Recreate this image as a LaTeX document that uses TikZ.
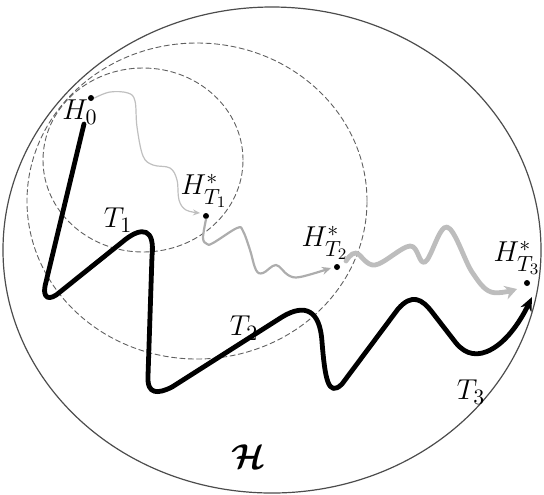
\documentclass[tikz,border=0pt]{standalone}
\usepackage{amsmath,amssymb,bm}
\usepackage{xcolor}
\usepackage{tikz}
\usetikzlibrary{arrows.meta}

\begin{document}
\begin{tikzpicture}[x=0.5pt,y=-0.5pt,line cap=round,line join=round,
    dot/.style={circle,fill=black,inner sep=0pt,minimum size=3pt},
    lbl/.style={font=\fontsize{15.5}{18}\selectfont,inner sep=0pt},
    bound/.style={draw=gray!75!black,dash pattern=on 2.6pt off 1.6pt,line width=0.45pt},
    walk/.style={smooth,tension=0.6}]
    \useasboundingbox (0,0) rectangle (544,494);
    \draw[gray!60!black,line width=0.6pt] (272,250) ellipse [x radius=134.5pt,y radius=121.5pt];
    \draw[bound] (197,201) ellipse [x radius=85pt,y radius=79pt];
    \draw[bound] (143,160) ellipse [x radius=50pt,y radius=46pt];
    \node[dot] (h0) at (91,98) {};
    \node[dot] (ht1) at (206,216) {};
    \node[dot] (ht2) at (337,267) {};
    \node[dot] (ht3) at (527,283) {};
    \coordinate (t0) at (84,124);
    \coordinate (t3) at (532,297);
    \node[lbl] (lh0) at (80,112) {$H_0$};
    \node[lbl] (lht1) at (204,191) {$H^{*}_{T_1}$};
    \node[lbl] (lht2) at (325,243) {$H^{*}_{T_2}$};
    \node[lbl] (lht3) at (517,258) {$H^{*}_{T_3}$};
    \node[lbl] (lt1) at (118,220) {$T_1$};
    \node[lbl] (lt2) at (244,328) {$T_2$};
    \node[lbl] (lt3) at (471,392) {$T_3$};
    \node[font=\LARGE] (hs) at (249,457) {$\bm{\mathcal{H}}$};
    \draw[black!25,line width=0.6pt,-{Stealth[length=3.5pt,width=3pt]}] plot[walk] coordinates {(h0.east) (110,92) (128,93) (135,101) (137,127) (143,156) (153,165) (170,168) (177,180) (179,200) (186,210) (200,213)};
    \draw[black!32,line width=1.1pt,-{Stealth[length=4.5pt,width=4pt]}] plot[walk] coordinates {(ht1.south) (203,238) (207,244) (213,243) (237,228) (243,231) (250,250) (256,270) (263,273) (276,265) (288,275) (300,277) (331,268)};
    \draw[black!26,line width=2.4pt,-{Stealth[length=6pt,width=7pt]}] plot[walk] coordinates {(346,261) (356,253) (375,265) (410,246) (425,262) (447,227) (472,272) (491,292) (517,289)};
    \draw[black,line width=2.4pt,-{Stealth[length=7pt,width=6pt]}] (t0) -- (46,282)
        .. controls (41,300) and (50,301) .. (60,292) -- (126,239)
        .. controls (142,227) and (155,228) .. (152,256) -- (148,376)
        .. controls (147,395) and (158,394) .. (172,387) -- (282,317)
        .. controls (305,303) and (320,310) .. (322,342)
        .. controls (325,378) and (328,398) .. (342,384) -- (398,309)
        .. controls (412,293) and (422,299) .. (432,312) -- (456,343)
        .. controls (466,355) and (478,357) .. (492,349)
        .. controls (508,340) and (521,320) .. (t3);
\end{tikzpicture}
\end{document}
